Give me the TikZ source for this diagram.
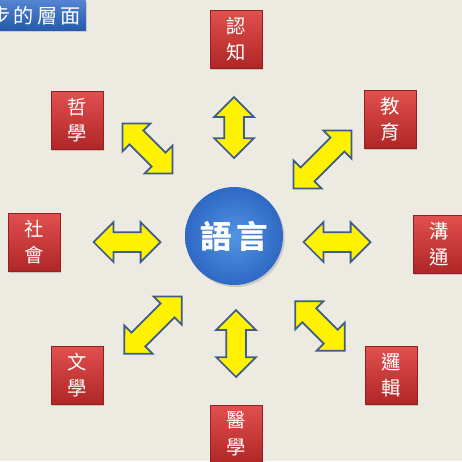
\documentclass[tikz,border=0pt]{standalone}
\usepackage{fontspec}
\newfontfamily\cjk{Noto Sans CJK TC}
\usetikzlibrary{shapes.arrows,shadows}

\definecolor{bgcream}{RGB}{237,235,225}
\definecolor{boxtop}{RGB}{224,80,78}
\definecolor{boxbot}{RGB}{176,38,38}
\definecolor{ballin}{RGB}{82,148,228}
\definecolor{ballout}{RGB}{46,104,196}
\definecolor{arrowline}{RGB}{62,92,140}
\definecolor{titletop}{RGB}{82,132,208}
\definecolor{titlebot}{RGB}{38,88,172}

\tikzset{
  topic/.style={rectangle, minimum width=1.04cm, minimum height=1.16cm,
    top color=boxtop, bottom color=boxbot, draw=boxbot!85!black, line width=0.3pt,
    text=white, font=\cjk\fontsize{11}{15}\selectfont, align=center, inner sep=0pt,
    drop shadow={shadow xshift=0.7pt, shadow yshift=-0.9pt, opacity=0.35}},
  dblarrow/.style={double arrow, double arrow head extend=0.2cm, inner sep=0.18cm,
    minimum width=0pt, fill=yellow, draw=arrowline, line width=1pt}
}

\begin{document}
\begin{tikzpicture}[x=0.02cm, y=-0.02cm]
    % Canvas
    \useasboundingbox (0,0) rectangle (462,461);
    \clip (0,0) rectangle (462,461);
    \fill[bgcream] (0,0) rectangle (462,461);

    % Title bar (cut at the left edge)
    \node[anchor=north east, minimum width=2cm, minimum height=0.5cm, inner xsep=2pt,
          top color=titletop, bottom color=titlebot, text=white,
          font=\cjk\fontsize{11.5}{11.5}\selectfont, align=right,
          drop shadow={shadow xshift=0.8pt, shadow yshift=-0.8pt, opacity=0.3}]
        (title) at (86,0) {步\hspace{0.15em}的\hspace{0.15em}層\hspace{0.15em}面};

    % Centre
    \node[circle, minimum size=1.96cm, inner sep=0pt, shading=radial,
          inner color=ballin, outer color=ballout, text=white,
          font=\cjk\bfseries\fontsize{18}{18}\selectfont,
          drop shadow={shadow xshift=1pt, shadow yshift=-1.2pt, opacity=0.3}]
        (lang) at (234,236) {語\hspace{0.15em}言};

    % Surrounding topics
    \node[topic] (cog)   at (236,39)  {認\\知};
    \node[topic] (phil)  at (77,120)  {哲\\學};
    \node[topic] (edu)   at (390,119) {教\\育};
    \node[topic] (soc)   at (34,242)  {社\\會};
    \node[topic] (comm)  at (439,244) {溝\\通};
    \node[topic] (lit)   at (77,375)  {文\\學};
    \node[topic] (logic) at (391,375) {邏\\輯};
    \node[topic] (med)   at (236,434) {醫\\學};

    % Two-way arrows
    \node[dblarrow, minimum height=1.22cm, rotate=90]  (a-cog)   at (234,127.5) {};
    \node[dblarrow, minimum height=1.34cm, rotate=90]  (a-med)   at (236,343.5) {};
    \node[dblarrow, minimum height=1.34cm]             (a-soc)   at (127,242)   {};
    \node[dblarrow, minimum height=1.34cm]             (a-comm)  at (337,242)   {};
    \node[dblarrow, minimum height=1.42cm, rotate=-45] (a-phil)  at (147.5,148.5) {};
    \node[dblarrow, minimum height=1.64cm, rotate=45]  (a-edu)   at (322.5,159.5) {};
    \node[dblarrow, minimum height=1.62cm, rotate=45]  (a-lit)   at (153,325)   {};
    \node[dblarrow, minimum height=1.40cm, rotate=-45] (a-logic) at (320,326)   {};
\end{tikzpicture}
\end{document}
